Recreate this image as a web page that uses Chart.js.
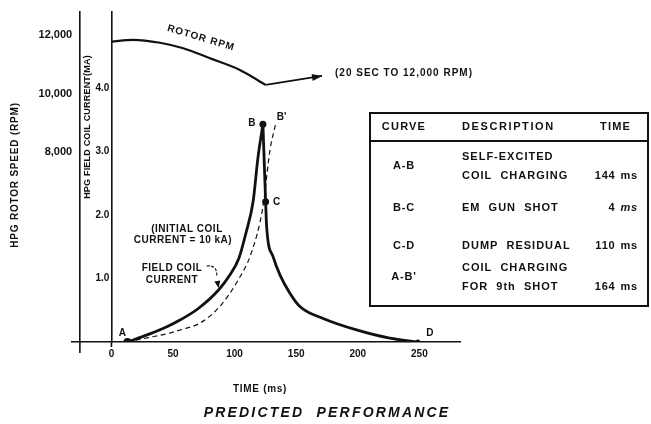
<!DOCTYPE html>
<html>
<head>
<meta charset="utf-8">
<style>
  html, body { margin: 0; padding: 0; background: #fff; }
  #wrap { width: 651px; height: 424px; position: relative; }
</style>
<script src="https://cdn.jsdelivr.net/npm/chart.js@4.4.1/dist/chart.umd.min.js"></script>
</head>
<body>
<div id="wrap"><canvas id="c"></canvas></div>
<script>
"use strict";
// Predicted performance of the HPG: field coil current + rotor speed vs time.

const TIME_TICKS = [0, 50, 100, 150, 200, 250];
const CURRENT_TICKS = [1, 2, 3, 4];
const RPM_TICKS = [8000, 10000, 12000];

// A-B: self-excited coil charging (MA vs ms)
const RISE_T = [13, 30, 45, 56, 70, 87, 96, 103.5, 109, 115, 119, 123];
const RISE_I = [0, 0.12, 0.24, 0.35, 0.52, 0.82, 1.05, 1.32, 1.7, 2.21, 2.91, 3.43];
// B-C: gun shot
const SHOT_T = [123, 125.2];
const SHOT_I = [3.43, 2.21];
// C-D: dump residual
const DECAY_T = [125.2, 126, 131.3, 137, 144.9, 153, 171.9, 199, 226, 248.8];
const DECAY_I = [2.21, 1.82, 1.34, 1.05, 0.77, 0.56, 0.37, 0.19, 0.06, 0];
// A-B': coil charging for 9th shot (dashed)
const DASH_T = [13, 30, 45, 56, 72, 88, 103, 113.5, 123, 128.7, 133.5];
const DASH_I = [0, 0.07, 0.13, 0.19, 0.3, 0.56, 0.98, 1.4, 2.13, 3.02, 3.45];
// rotor speed (rpm)
const ROTOR_T = [0, 17.7, 39.4, 58.3, 80, 104.3, 125.2];
const ROTOR_RPM = [11790, 11850, 11750, 11560, 11220, 10820, 10310];
const ARROW_T = [125.2, 171];
const ARROW_RPM = [10310, 10615];

const KEY_NAMES = ["A", "B", "C", "D"];
const KEY_T = [13, 123, 125.2, 248.8];
const KEY_I = [0, 3.43, 2.21, 0];

const TABLE_CURVE = ["A-B", "B-C", "C-D", "A-B'"];
const TABLE_DESC = [["SELF-EXCITED", "COIL  CHARGING"], ["EM  GUN  SHOT"], ["DUMP  RESIDUAL"], ["COIL  CHARGING", "FOR  9th  SHOT"]];
const TABLE_TIME = ["144 ms", "4 ms", "110 ms", "164 ms"];

const INK = "#111";
const FONT = '"Liberation Sans", Arial, Helvetica, sans-serif';

const pts = (xs, ys) => xs.map((x, i) => ({ x, y: ys[i] }));

function txt(ctx, s, px, py, o = {}) {
  const { size = 10, style = "bold", align = "center", spacing = 0, rot = 0 } = o;
  ctx.save();
  ctx.translate(px, py);
  if (rot) ctx.rotate(rot);
  ctx.font = `${style} ${size}px ${FONT}`;
  ctx.letterSpacing = spacing + "px";
  ctx.textAlign = align;
  ctx.textBaseline = "middle";
  ctx.fillStyle = INK;
  ctx.fillText(s, 0, 0);
  ctx.restore();
}

function arrowHead(ctx, x0, y0, x1, y1, len, half) {
  const a = Math.atan2(y1 - y0, x1 - x0);
  ctx.save();
  ctx.translate(x1, y1);
  ctx.rotate(a);
  ctx.beginPath();
  ctx.moveTo(0, 0);
  ctx.lineTo(-len, -half);
  ctx.lineTo(-len, half);
  ctx.closePath();
  ctx.fillStyle = INK;
  ctx.fill();
  ctx.restore();
}

const notes = {
  id: "notes",
  afterDatasetsDraw(chart) {
    const { ctx, scales } = chart;
    const { x, y, rpm } = scales;

    // axis stubs poking below the baseline
    ctx.save();
    ctx.strokeStyle = INK;
    ctx.lineWidth = 1.6;
    const base = y.getPixelForValue(0);
    [[x.getPixelForValue(0), 5], [x.getPixelForValue(-25.6), 11]].forEach(([px, l]) => {
      ctx.beginPath();
      ctx.moveTo(px, base);
      ctx.lineTo(px, base + l);
      ctx.stroke();
    });
    ctx.restore();

    // rotor arrow head
    const n = ARROW_T.length;
    arrowHead(ctx,
      x.getPixelForValue(ARROW_T[n - 2]), rpm.getPixelForValue(ARROW_RPM[n - 2]),
      x.getPixelForValue(ARROW_T[n - 1]), rpm.getPixelForValue(ARROW_RPM[n - 1]), 10, 3.5);

    // point letters
    const off = [[-5, -9], [-11, -1], [11, 0], [12, -9]];
    KEY_NAMES.forEach((k, i) => {
      txt(ctx, k, x.getPixelForValue(KEY_T[i]) + off[i][0], y.getPixelForValue(KEY_I[i]) + off[i][1], { size: 10 });
    });
    const bt = DASH_T[DASH_T.length - 1], bi = DASH_I[DASH_I.length - 1];
    txt(ctx, "B'", x.getPixelForValue(bt) + 1, y.getPixelForValue(bi) - 6, { size: 10, align: "left" });

    // curve notes
    txt(ctx, "ROTOR RPM", 201, 38, { size: 10, spacing: 1, rot: 0.29 });
    txt(ctx, "(20 SEC TO 12,000 RPM)", 335, 73, { size: 10, spacing: 1, align: "left" });
    txt(ctx, "(INITIAL COIL", 187, 229, { size: 10, spacing: 0.5 });
    txt(ctx, "CURRENT = 10 kA)", 183, 240, { size: 10, spacing: 0.5 });
    txt(ctx, "FIELD COIL", 172, 268, { size: 10, spacing: 0.5 });
    txt(ctx, "CURRENT", 172, 280, { size: 10, spacing: 0.5 });

    // curly pointer to the field coil curve
    const tx = x.getPixelForValue(RISE_T[5]), ty = y.getPixelForValue(RISE_I[5]);
    ctx.save();
    ctx.strokeStyle = INK;
    ctx.lineWidth = 1.1;
    ctx.setLineDash([3, 1.5]);
    ctx.beginPath();
    ctx.moveTo(tx - 12, ty - 24);
    ctx.bezierCurveTo(tx - 4, ty - 25, tx - 1, ty - 20, tx - 2, ty - 13);
    ctx.stroke();
    ctx.restore();
    arrowHead(ctx, tx - 2, ty - 13, tx, ty - 2, 7, 3);

    // axis titles
    txt(ctx, "HPG ROTOR SPEED (RPM)", 15, 175, { size: 10, spacing: 0.8, rot: -Math.PI / 2 });
    txt(ctx, "HPG FIELD COIL CURRENT(MA)", 88, 127, { size: 9, spacing: 0.2, rot: -Math.PI / 2 });
    txt(ctx, "TIME (ms)", 260, 389, { size: 10, spacing: 0.7 });
    txt(ctx, "PREDICTED  PERFORMANCE", 327, 413, { size: 14, style: "italic bold", spacing: 2.2 });

    // legend table
    const L = 370, R = 648, T = 113, B = 306, SEP = 141;
    ctx.save();
    ctx.strokeStyle = INK;
    ctx.lineWidth = 2;
    ctx.strokeRect(L, T, R - L, B - T);
    ctx.beginPath();
    ctx.moveTo(L, SEP);
    ctx.lineTo(R, SEP);
    ctx.stroke();
    ctx.restore();

    txt(ctx, "CURVE", 404, 127, { size: 11, spacing: 1.2 });
    txt(ctx, "DESCRIPTION", 462, 127, { size: 11, spacing: 1.6, align: "left" });
    txt(ctx, "TIME", 600, 127, { size: 11, spacing: 1.2, align: "left" });

    const rowY = [166, 208, 246, 277];
    TABLE_CURVE.forEach((c, i) => {
      const yc = rowY[i];
      txt(ctx, c, 404, yc, { size: 11, spacing: 0.8 });
      const d = TABLE_DESC[i];
      if (d.length === 2) {
        txt(ctx, d[0], 462, yc - 9.5, { size: 11, spacing: 1, align: "left" });
        txt(ctx, d[1], 462, yc + 9.5, { size: 11, spacing: 1, align: "left" });
      } else {
        txt(ctx, d[0], 462, yc, { size: 11, spacing: 1, align: "left" });
      }
      const ty2 = d.length === 2 ? yc + 9.5 : yc;
      const [num, unit] = TABLE_TIME[i].split(" ");
      const uStyle = i === 1 ? "italic bold" : "bold";
      ctx.save();
      ctx.font = `${uStyle} 11px ${FONT}`;
      ctx.letterSpacing = "0.8px";
      const uw = ctx.measureText(unit).width;
      ctx.restore();
      txt(ctx, unit, 638, ty2, { size: 11, style: uStyle, spacing: 0.8, align: "right" });
      txt(ctx, num, 638 - uw - 5, ty2, { size: 11, spacing: 0.8, align: "right" });
    });
  }
};

// keep the object-positioned axes from pushing the plot area around
const noPad = (s) => { s.paddingTop = 0; s.paddingBottom = 0; s.paddingLeft = 0; s.paddingRight = 0; };

const solid = { borderColor: INK, backgroundColor: INK, pointRadius: 0, fill: false, yAxisID: "y" };

new Chart(document.getElementById("c"), {
  type: "line",
  data: {
    datasets: [
      { ...solid, data: pts(RISE_T, RISE_I), borderWidth: 2.8, cubicInterpolationMode: "monotone" },
      { ...solid, data: pts(SHOT_T, SHOT_I), borderWidth: 2.8 },
      { ...solid, data: pts(DECAY_T, DECAY_I), borderWidth: 2.8, cubicInterpolationMode: "monotone" },
      { ...solid, data: pts(DASH_T, DASH_I), borderWidth: 1.2, borderDash: [5, 3.5], cubicInterpolationMode: "monotone" },
      { ...solid, data: pts(ROTOR_T, ROTOR_RPM), yAxisID: "rpm", borderWidth: 2.2, cubicInterpolationMode: "monotone" },
      { ...solid, data: pts(ARROW_T, ARROW_RPM), yAxisID: "rpm", borderWidth: 1.8 },
      { ...solid, data: pts(KEY_T, KEY_I), showLine: false, pointRadius: [4, 3.5, 3.5, 2.5], pointBorderWidth: 0 },
    ],
  },
  options: {
    responsive: true,
    maintainAspectRatio: false,
    animation: false,
    events: [],
    layout: { padding: { left: 72, right: 191, top: 12, bottom: 0 } },
    plugins: { legend: { display: false }, tooltip: { enabled: false } },
    scales: {
      x: {
        type: "linear", min: -32, max: 283,
        afterBuildTicks: (s) => { s.ticks = TIME_TICKS.map(v => ({ value: v })); },
        afterFit: (s) => { noPad(s); s.height = 82; },
        grid: { display: false, drawTicks: false },
        border: { display: true, color: INK, width: 1.6 },
        ticks: { color: INK, padding: 6, maxRotation: 0, font: { family: FONT, size: 10, weight: "bold" } },
      },
      // axes pinned to x values; their labels sit flush, so a trailing space gives the gap
      y: {
        axis: "y", type: "linear", min: 0, max: 5.2,
        position: { x: 0 },
        afterBuildTicks: (s) => { s.ticks = CURRENT_TICKS.map(v => ({ value: v })); },
        afterFit: noPad,
        grid: { display: false, drawTicks: false },
        border: { display: true, color: INK, width: 1.6 },
        ticks: { color: INK, callback: (v) => v.toFixed(1) + "\u2009", font: { family: FONT, size: 10, weight: "bold" } },
      },
      rpm: {
        axis: "y", type: "linear", min: 1520, max: 12800,
        position: { x: -25.6 },
        afterBuildTicks: (s) => { s.ticks = RPM_TICKS.map(v => ({ value: v })); },
        afterFit: noPad,
        grid: { display: false, drawTicks: false },
        border: { display: true, color: INK, width: 1.6 },
        ticks: { color: INK, callback: (v) => v.toLocaleString("en-US") + "\u2002\u2009", font: { family: FONT, size: 11, weight: "bold" } },
      },
    },
  },
  plugins: [notes],
});
</script>
</body>
</html>
